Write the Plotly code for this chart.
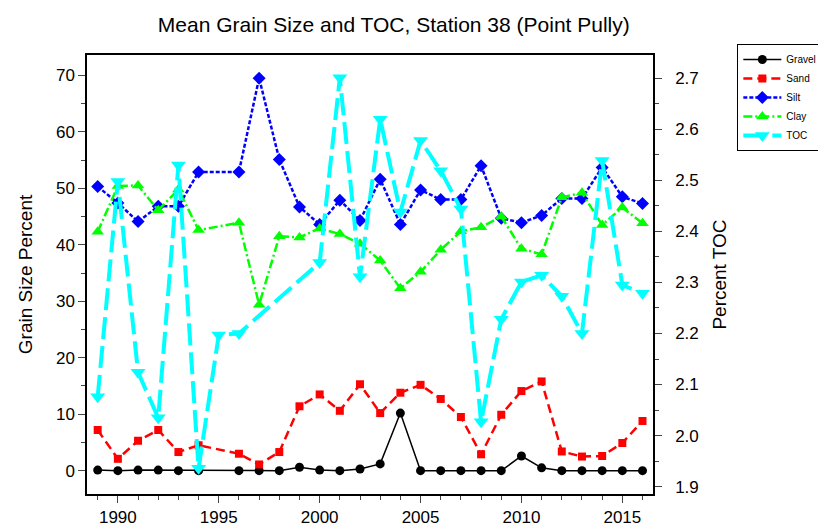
import plotly.graph_objects as go

grain_years = [1989, 1990, 1991, 1992, 1993, 1994,
               1996, 1997, 1998, 1999, 2000, 2001, 2002, 2003, 2004, 2005,
               2006, 2007, 2008, 2009, 2010, 2011, 2012, 2013, 2014, 2015, 2016]
gravel = [0.1, 0.0, 0.1, 0.1, 0.0, 0.0,
          0.0, 0.0, 0.0, 0.6, 0.1, 0.0, 0.3, 1.2, 10.2, 0.0,
          0.0, 0.0, 0.0, 0.0, 2.6, 0.5, 0.0, 0.0, 0.0, 0.0, 0.0]
sand = [7.2, 2.1, 5.3, 7.2, 3.3, 4.5,
        3.0, 1.1, 3.3, 11.4, 13.5, 10.6, 15.3, 10.2, 13.8, 15.2,
        12.7, 9.5, 2.9, 9.9, 14.1, 15.8, 3.4, 2.5, 2.6, 4.9, 8.8]
silt = [50.3, 47.4, 44.1, 46.8, 46.8, 52.9,
        52.9, 69.5, 55.1, 46.7, 43.6, 47.9, 44.3, 51.6, 43.6, 49.7,
        48.0, 48.0, 54.0, 44.7, 43.9, 45.2, 48.2, 48.2, 53.7, 48.5, 47.3]
clay = [42.3, 50.4, 50.5, 46.1, 49.8, 42.6,
        43.9, 29.4, 41.5, 41.3, 42.9, 41.9, 40.2, 37.2, 32.3, 35.2,
        39.1, 42.4, 43.1, 45.0, 39.3, 38.3, 48.4, 49.2, 43.5, 46.6, 43.8]

toc_years = [1989, 1990, 1991, 1992, 1993, 1994, 1995, 1996,
             2000, 2001, 2002, 2003, 2004, 2005, 2006, 2007, 2008,
             2009, 2010, 2011, 2012, 2013, 2014, 2015, 2016]
toc = [2.076, 2.498, 2.124, 2.035, 2.530, 1.936, 2.197, 2.200,
       2.339, 2.701, 2.311, 2.620, 2.438, 2.578, 2.519, 2.444, 2.027,
       2.228, 2.301, 2.314, 2.273, 2.200, 2.539, 2.295, 2.279]

x_ticks = [1990, 1995, 2000, 2005, 2010, 2015]
left_ticks = [0, 10, 20, 30, 40, 50, 60, 70]
right_ticks = [1.9, 2.0, 2.1, 2.2, 2.3, 2.4, 2.5, 2.6, 2.7]

fig = go.Figure()
fig.add_trace(go.Scatter(x=grain_years, y=gravel, name="Gravel", mode="lines+markers",
                         line=dict(color="#000000", width=1.5),
                         marker=dict(symbol="circle", size=9, color="#000000")))
fig.add_trace(go.Scatter(x=grain_years, y=sand, name="Sand", mode="lines+markers",
                         line=dict(color="#FF0000", width=2.5, dash="9px,5px"),
                         marker=dict(symbol="square", size=8, color="#FF0000")))
fig.add_trace(go.Scatter(x=grain_years, y=silt, name="Silt", mode="lines+markers",
                         line=dict(color="#0000FF", width=2.5, dash="4px,2px"),
                         marker=dict(symbol="diamond", size=10, color="#0000FF")))
fig.add_trace(go.Scatter(x=grain_years, y=clay, name="Clay", mode="lines+markers",
                         line=dict(color="#00FF00", width=2.5, dash="9px,3px,2px,3px"),
                         marker=dict(symbol="triangle-up", size=11, color="#00FF00")))
fig.add_trace(go.Scatter(x=toc_years, y=toc, name="TOC", mode="lines+markers", yaxis="y2",
                         line=dict(color="#00FFFF", width=4, dash="22px,7px"),
                         marker=dict(symbol="triangle-down", size=13, color="#00FFFF")))

font = "Liberation Sans, Arial, sans-serif"
fig.update_layout(
    width=826, height=531,
    margin=dict(l=79, r=165, t=47, b=33),
    paper_bgcolor="white", plot_bgcolor="white",
    font=dict(family=font, color="#000000"),
    title=dict(text="Mean Grain Size and TOC, Station 38 (Point Pully)",
               x=0.542, xanchor="center", xref="paper", y=0.982, yanchor="top",
               font=dict(size=21, family=font)),
    xaxis=dict(range=[1988.47, 2016.52], tickvals=x_ticks, ticks="outside", ticklen=7,
               showline=True, linecolor="black", linewidth=1.5, mirror=True,
               showgrid=False, zeroline=False, tickfont=dict(size=17),
               minor=dict(dtick=1, tick0=1990, ticks="outside", ticklen=4, showgrid=False)),
    yaxis=dict(range=[-4.13, 73.6], tickvals=left_ticks, ticks="outside", ticklen=7,
               showline=True, linecolor="black", linewidth=1.5,
               showgrid=False, zeroline=False, tickfont=dict(size=17),
               title=dict(text="Grain Size Percent", font=dict(size=19), standoff=18),
               minor=dict(dtick=5, tick0=0, ticks="outside", ticklen=4, showgrid=False)),
    yaxis2=dict(range=[1.8855, 2.7457], overlaying="y", side="right",
                tickvals=right_ticks, ticktext=[f"{v:.1f}" for v in right_ticks],
                ticks="outside", ticklen=7, showline=True, linecolor="black", linewidth=1.5,
                showgrid=False, zeroline=False, tickfont=dict(size=17), ticklabelstandoff=10,
                title=dict(text="Percent TOC", font=dict(size=19), standoff=15),
                minor=dict(dtick=0.05, tick0=1.9, ticks="outside", ticklen=4, showgrid=False)),
    legend=dict(x=1.149, y=1.025, xanchor="left", yanchor="top",
                bordercolor="black", borderwidth=1, bgcolor="white",
                font=dict(size=10, family=font), itemwidth=38, tracegroupgap=0),
    showlegend=True,
)

fig.write_html("out.html")
